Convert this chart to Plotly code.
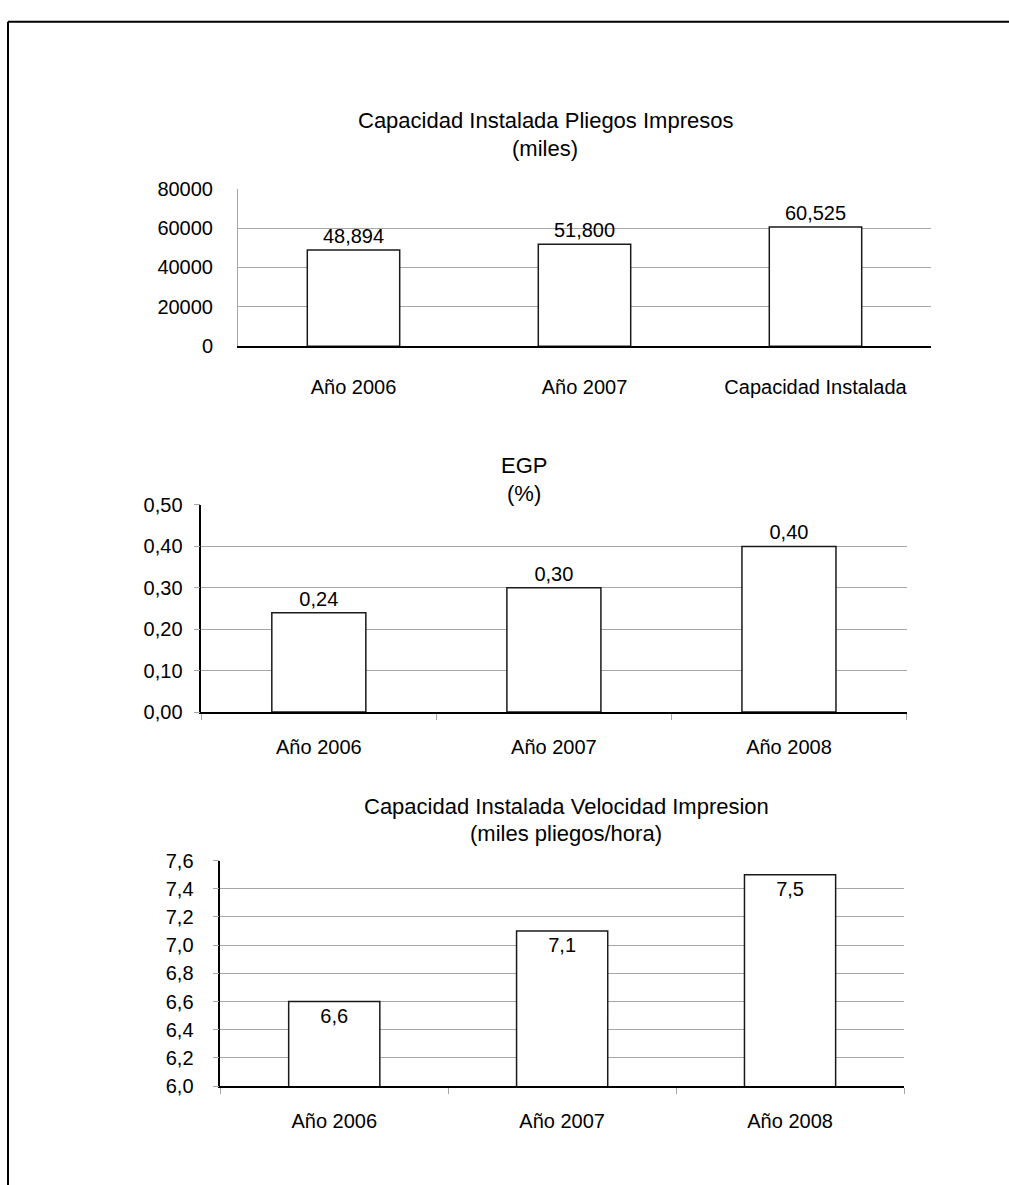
import plotly.graph_objects as go

# ---------------- data ----------------
cats1 = ["Año 2006", "Año 2007", "Capacidad Instalada"]
vals1 = [48894, 51800, 60525]
title1 = ["Capacidad Instalada Pliegos Impresos", "(miles)"]
ticks1 = [0, 20000, 40000, 60000, 80000]

cats2 = ["Año 2006", "Año 2007", "Año 2008"]
vals2 = [0.24, 0.30, 0.40]
title2 = ["EGP", "(%)"]
ticks2 = [0.0, 0.1, 0.2, 0.3, 0.4, 0.5]

cats3 = ["Año 2006", "Año 2007", "Año 2008"]
vals3 = [6.6, 7.1, 7.5]
title3 = ["Capacidad Instalada Velocidad Impresion", "(miles pliegos/hora)"]
ticks3 = [6.0, 6.2, 6.4, 6.6, 6.8, 7.0, 7.2, 7.4, 7.6]

# ---------------- layout helpers ----------------
W, H = 1009, 1185
FONT = "Liberation Sans, Arial, sans-serif"
GRID = "#a6a6a6"


def fx(px):
    return px / W


def fy(py):
    return 1 - py / H


fig = go.Figure()

fig.add_trace(go.Bar(
    x=cats1, y=vals1, width=0.4, xaxis="x", yaxis="y",
    marker=dict(color="white", line=dict(color="#1a1a1a", width=1.5)),
    text=[f"{v:,}" for v in vals1], textposition="outside",
    textfont=dict(size=20, color="black", family=FONT),
    cliponaxis=False, showlegend=False, hoverinfo="skip",
))
fig.add_trace(go.Bar(
    x=cats2, y=vals2, width=0.4, xaxis="x2", yaxis="y2",
    marker=dict(color="white", line=dict(color="#1a1a1a", width=1.5)),
    text=[f"{v:.2f}".replace(".", ",") for v in vals2], textposition="outside",
    textfont=dict(size=20, color="black", family=FONT),
    cliponaxis=False, showlegend=False, hoverinfo="skip",
))
fig.add_trace(go.Bar(
    x=cats3, y=vals3, width=0.4, xaxis="x3", yaxis="y3",
    marker=dict(color="white", line=dict(color="#1a1a1a", width=1.5)),
    text=[f"{v:.1f}".replace(".", ",") for v in vals3], textposition="inside",
    insidetextanchor="end",
    textfont=dict(size=20, color="black", family=FONT),
    showlegend=False, hoverinfo="skip",
))

tickfont = dict(size=20, color="black", family=FONT)

common_x = dict(type="category", showgrid=False, zeroline=False, showline=True,
                linecolor="black", linewidth=1.5, tickfont=tickfont, fixedrange=True)
common_y = dict(showgrid=True, gridcolor=GRID, gridwidth=1, zeroline=False,
                showline=True, tickfont=tickfont, fixedrange=True)

fig.update_layout(
    width=W, height=H,
    margin=dict(l=0, r=0, t=0, b=0),
    paper_bgcolor="white", plot_bgcolor="white",
    font=dict(family=FONT, size=20, color="black"),
    showlegend=False,
    xaxis=dict(**common_x, domain=[fx(238), fx(931)], anchor="y",
               ticks="", ticklabelstandoff=22),
    yaxis=dict(**common_y, domain=[fy(341.7), fy(181)], anchor="x",
               range=[0, 80000], tickvals=ticks1,
               ticktext=[f"{t:d}" for t in ticks1],
               linecolor=GRID, linewidth=1, ticks="", ticklabelstandoff=20),
    xaxis2=dict(**common_x, domain=[fx(201.3), fx(906.5)], anchor="y2",
                ticks="outside", ticklen=6, tickcolor=GRID, tickson="boundaries",
                ticklabelstandoff=16),
    yaxis2=dict(**common_y, domain=[fy(714.3), fy(503.3)], anchor="x2",
                range=[0, 0.5], tickvals=ticks2,
                ticktext=[f"{t:.2f}".replace(".", ",") for t in ticks2],
                linecolor="black", linewidth=1.5,
                ticks="outside", ticklen=6, tickcolor=GRID, ticklabelstandoff=7),
    xaxis3=dict(**common_x, domain=[fx(220.3), fx(904)], anchor="y3",
                ticks="outside", ticklen=6, tickcolor=GRID, tickson="boundaries",
                ticklabelstandoff=16),
    yaxis3=dict(**common_y, domain=[fy(1095.4), fy(865.7)], anchor="x3",
                range=[6.0, 7.6], tickvals=ticks3,
                ticktext=[f"{t:.1f}".replace(".", ",") for t in ticks3],
                linecolor="black", linewidth=1.5,
                ticks="outside", ticklen=6, tickcolor=GRID, ticklabelstandoff=15),
)

# titles
title_specs = [
    (title1, 545, 111.7, 140.0),
    (title2, 524, 463.3, 491.7),
    (title3, 566, 810.7, 838.3),
]
for lines, cx, y1, y2 in title_specs:
    for txt, yy in zip(lines, (y1, y2)):
        fig.add_annotation(text=txt, x=fx(cx), y=fy(yy), xref="paper", yref="paper",
                           xanchor="center", yanchor="middle", showarrow=False,
                           font=dict(size=22, color="black", family=FONT))

# outer frame (top and left edges visible)
fig.add_shape(type="line", xref="paper", yref="paper",
              x0=fx(8), x1=fx(1020), y0=fy(11), y1=fy(11),
              line=dict(color="black", width=2))
fig.add_shape(type="line", xref="paper", yref="paper",
              x0=fx(8), x1=fx(8), y0=fy(11), y1=fy(1200),
              line=dict(color="black", width=2))

fig.write_html("out.html")
